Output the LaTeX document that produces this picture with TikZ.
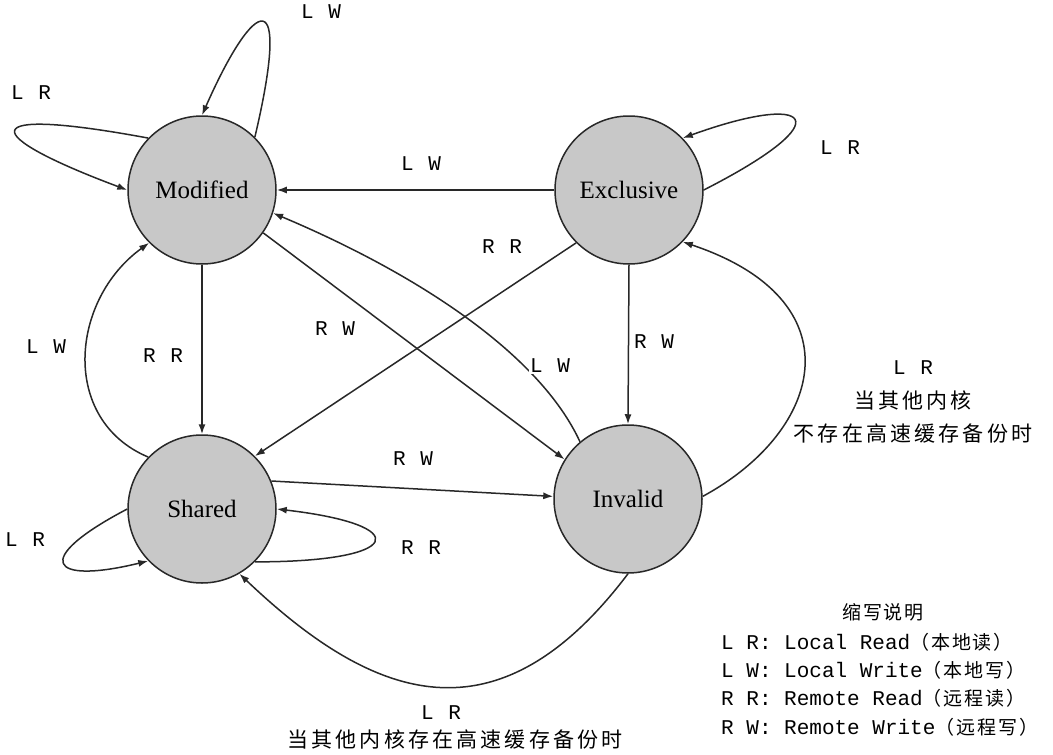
\documentclass[tikz,border=0pt]{standalone}
\usepackage{fontspec}
\setmainfont{Liberation Serif}
\newfontfamily\lmono{Liberation Mono}
\newfontfamily\labfont[LetterSpace=10]{Liberation Mono}
\newfontfamily\cjkfont[LetterSpace=15]{Noto Sans CJK SC}
\newfontfamily\cjkleg[LetterSpace=10]{Noto Sans CJK SC}
\usetikzlibrary{arrows.meta}
\definecolor{stategray}{RGB}{200,200,200}
\definecolor{linegray}{RGB}{40,40,40}
\tikzset{
  state/.style={circle,draw=linegray,line width=1.5pt,fill=stategray,minimum size=148pt,inner sep=0pt,font=\fontsize{25}{29}\selectfont},
  edge/.style={draw=linegray,line width=1.5pt,-{Latex[length=10pt,width=7pt]}},
  lab/.style={font=\labfont\fontsize{21}{24}\selectfont,inner sep=1pt},
  cjklab/.style={font=\cjkfont\fontsize{21}{24}\selectfont,inner sep=1pt},
  legline/.style={anchor=west,inner sep=0pt}
}
\begin{document}
\begin{tikzpicture}[x=1pt,y=-1pt]
\useasboundingbox (0,0) rectangle (1053,755);
\fill[white] (0,0) rectangle (1053,755);

% states
\node[state] (M) at (202,190) {Modified};
\node[state] (E) at (629,190) {Exclusive};
\node[state] (S) at (202,509) {Shared};
\node[state] (I) at (628,499) {Invalid};

% Modified self loops
\draw[edge] (M.45) .. controls (292,-20) and (255,-5) .. (M.90);
\draw[edge] (M.136) .. controls (-30,105) and (-20,135) .. (M.180);
% Exclusive -> Modified
\draw[edge] (E.180) -- (M.0);
% Exclusive self loop
\draw[edge] (E.0) .. controls (845,118) and (810,92) .. (E.44);
% Exclusive -> Shared
\draw[edge] (E.225) -- (S.45);
% Exclusive -> Invalid
\draw[edge] (E.270) -- (I.90);
% Modified -> Shared
\draw[edge] (M.270) -- (S.90);
% Modified -> Invalid
\draw[edge] (M.-35) -- (I.148);
% Invalid -> Modified
\draw[edge] (I.130) .. controls (540,355) and (420,275) .. (M.-18);
% Shared -> Modified
\draw[edge] (S.136) .. controls (60,420) and (70,300) .. (M.225);
% Shared -> Invalid
\draw[edge] (S.22) -- (I.178);
% Shared self loops
\draw[edge] (S.180) .. controls (30,560) and (50,585) .. (S.224);
\draw[edge] (S.-45) .. controls (405,562) and (415,525) .. (S.0);
% Invalid -> Exclusive
\draw[edge] (I.2) .. controls (825,430) and (857,300) .. (E.-44);
% Invalid -> Shared
\draw[edge] (I.270) .. controls (497,747) and (373,701) .. (S.-60);

% edge labels
\node[lab] (lMLW) at (321,12) {L W};
\node[lab] (lMLR) at (31,93) {L R};
\node[lab] (lEMLW) at (421,164) {L W};
\node[lab] (lELR) at (840,148) {L R};
\node[lab] (lESRR) at (502,247) {R R};
\node[lab] (lMIRW) at (335,329) {R W};
\node[lab,fill=white] (lIMLW) at (550,366) {L W};
\node[lab] (lEIRW) at (654,342) {R W};
\node[lab] (lMSRR) at (163,356) {R R};
\node[lab] (lSMLW) at (46,347) {L W};
\node[lab] (lSIRW) at (413,459) {R W};
\node[lab] (lSLR) at (25,540) {L R};
\node[lab] (lSRR) at (421,548) {R R};
\node[lab] (lISLR) at (441,713) {L R};
\node[cjklab] (lISC) at (455,740) {当其他内核存在高速缓存备份时};
\node[lab] (lIELR) at (913,368) {L R};
\node[cjklab] (lIEC1) at (913,400) {当其他内核};
\node[cjklab] (lIEC2) at (913,434) {不存在高速缓存备份时};

% legend
\node[font=\cjkleg\fontsize{19}{22}\selectfont] (legt) at (883,612) {缩写说明};
\node[legline] (leg1) at (721,642) {{\lmono\fontsize{21}{24}\selectfont L R: Local Read}{\cjkleg\fontsize{19}{22}\selectfont （本地读）}};
\node[legline] (leg2) at (721,670) {{\lmono\fontsize{21}{24}\selectfont L W: Local Write}{\cjkleg\fontsize{19}{22}\selectfont （本地写）}};
\node[legline] (leg3) at (721,698) {{\lmono\fontsize{21}{24}\selectfont R R: Remote Read}{\cjkleg\fontsize{19}{22}\selectfont （远程读）}};
\node[legline] (leg4) at (721,727) {{\lmono\fontsize{21}{24}\selectfont R W: Remote Write}{\cjkleg\fontsize{19}{22}\selectfont （远程写）}};
\end{tikzpicture}
\end{document}
